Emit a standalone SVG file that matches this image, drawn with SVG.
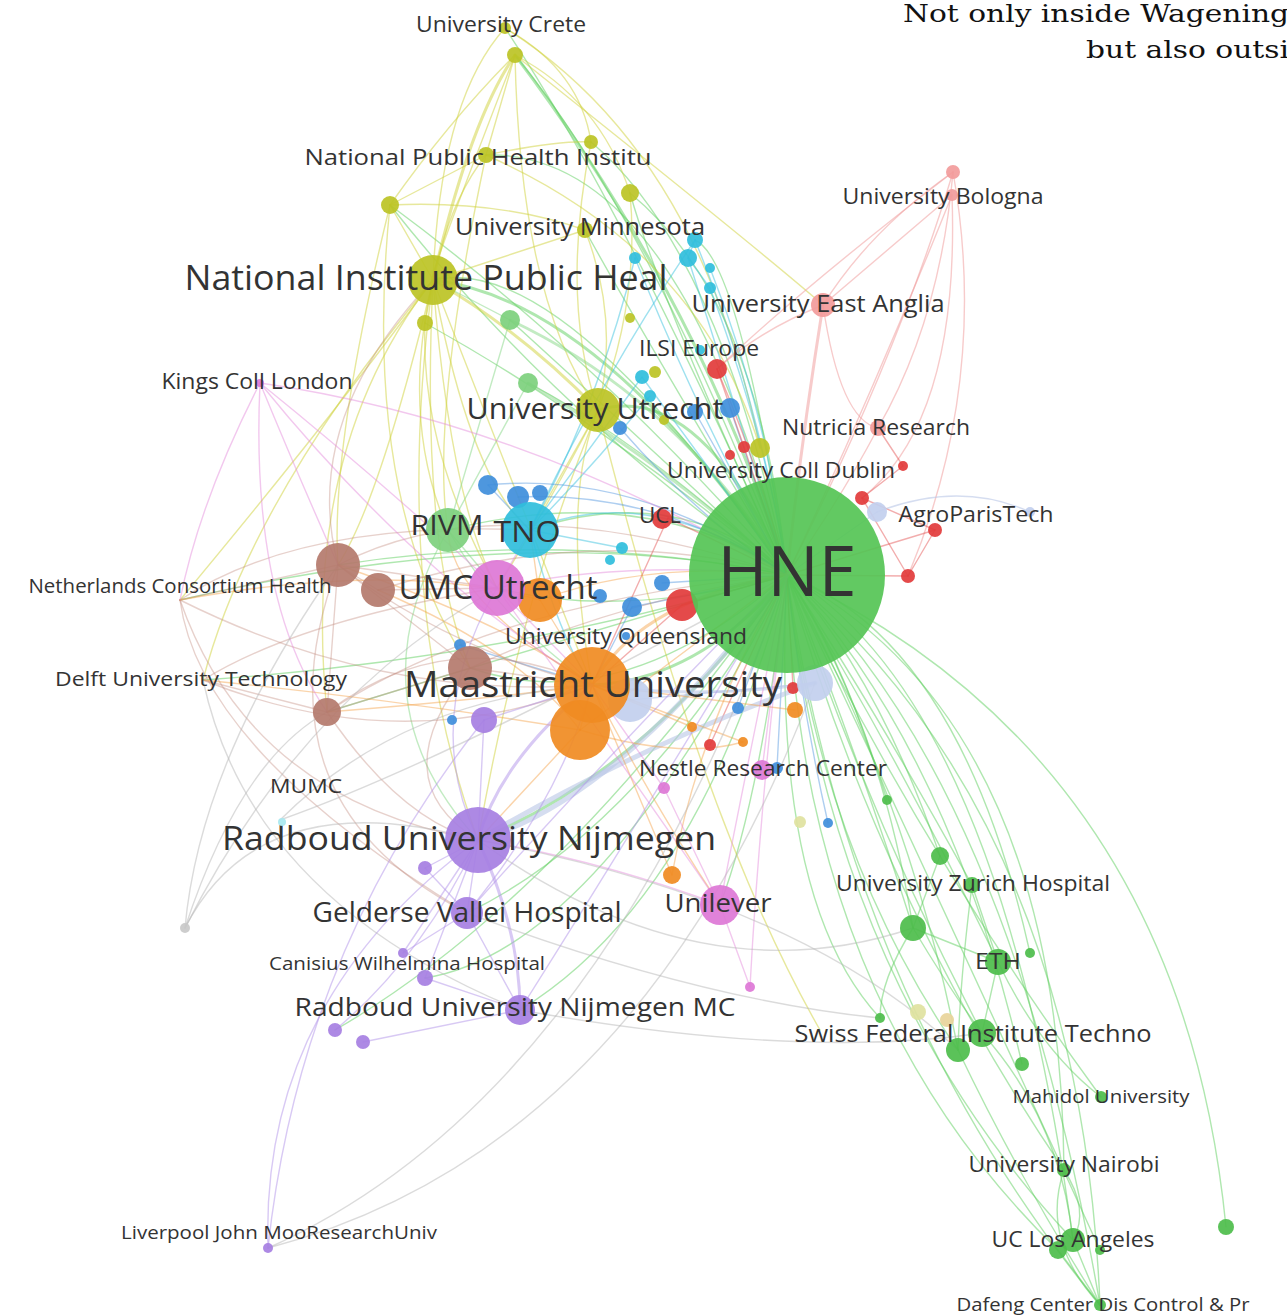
<svg xmlns="http://www.w3.org/2000/svg" width="1287" height="1315" viewBox="0 0 1287 1315">
<style>
.e path{fill:none;stroke-linecap:round;stroke-width:1.4}
.g{stroke:#5fcf5f;stroke-opacity:.5}
.y{stroke:#cfd23a;stroke-opacity:.5}
.lg{stroke:#86d886;stroke-opacity:.5}
.c{stroke:#3fc3df;stroke-opacity:.5}
.b{stroke:#4c93de;stroke-opacity:.45}
.r{stroke:#e24a4a;stroke-opacity:.45}
.s{stroke:#f0a0a0;stroke-opacity:.55}
.o{stroke:#f4a045;stroke-opacity:.45}
.m{stroke:#e384d9;stroke-opacity:.45}
.v{stroke:#b293ea;stroke-opacity:.5}
.n{stroke:#c48c80;stroke-opacity:.4}
.l{stroke:#b9c6e6;stroke-opacity:.6}
.k{stroke:#b8b8b8;stroke-opacity:.5}
.w2{stroke-width:3!important}
.w4{stroke-width:5!important}
circle{fill-opacity:.92}
.gr{fill:#4dbd4b}.ye{fill:#bcc325}.lgn{fill:#7dd07d}.cy{fill:#30bedc}.bl{fill:#3f8edb}.re{fill:#e23b3b}.sa{fill:#f29b9b}.lb{fill:#c2cfee}.br{fill:#b47a6d}.or{fill:#f08b22}.ma{fill:#dd77d6}.pu{fill:#a67fe2}.gy{fill:#c9c9c9}
text{font-family:"Open Sans","Noto Sans","DejaVu Sans",sans-serif;fill:#333;text-anchor:middle}
.t{font-family:"DejaVu Serif","Liberation Serif",serif;fill:#111;text-anchor:start;font-size:25px}
</style>
<rect width="1287" height="1315" fill="#fff"/>
<g id="connectors" class="e">
<path class="g" d="M787 575 Q850 1000 1100 1305"/>
<path class="g" d="M787 575 Q830 980 1073 1240"/>
<path class="g" d="M787 575 Q880 900 1064 1170"/>
<path class="g" d="M787 575 Q920 850 1101 1097"/>
<path class="g" d="M787 575 Q1180 760 1226 1227"/>
<path class="g" d="M787 575 Q870 820 982 1033"/>
<path class="g" d="M787 575 Q900 760 998 962"/>
<path class="g" d="M787 575 Q880 720 913 928"/>
<path class="g" d="M787 575 Q870 700 972 885"/>
<path class="g" d="M787 575 Q880 680 940 856"/>
<path class="g" d="M787 575 Q840 650 887 800"/>
<path class="g" d="M787 575 Q820 850 958 1050"/>
<path class="g" d="M787 575 Q1010 780 1100 1305"/>
<path class="g" d="M787 575 Q1000 700 1073 1240"/>
<path class="g" d="M787 575 Q770 900 880 1018"/>
<path class="g" d="M787 575 Q950 750 1022 1064"/>
<path class="g" d="M787 575 Q1060 720 1064 1170"/>
<path class="g" d="M787 575 Q800 1000 1058 1250"/>
<path class="g" d="M787 575 Q940 900 1100 1250"/>
<path class="g" d="M787 575 Q1080 820 1100 1305"/>
<path class="g" d="M787 575 Q960 640 1030 953"/>
<path class="g" d="M787 575 Q860 760 913 928"/>
<path class="g" d="M787 575 Q910 800 958 1050"/>
<path class="g" d="M913 928 L998 962"/>
<path class="g" d="M913 928 Q950 990 982 1033"/>
<path class="g" d="M972 885 L998 962"/>
<path class="g" d="M998 962 L982 1033"/>
<path class="g" d="M982 1033 Q1060 1120 1073 1240"/>
<path class="g" d="M1064 1170 Q1090 1210 1073 1240"/>
<path class="g" d="M1073 1240 L1100 1305"/>
<path class="g" d="M1058 1250 L1100 1305"/>
<path class="g" d="M1064 1170 Q1040 1240 1100 1305"/>
<path class="g" d="M940 856 L913 928"/>
<path class="g" d="M958 1050 Q1020 1180 1100 1305"/>
<path class="g" d="M972 885 Q960 980 958 1050"/>
<path class="g" d="M998 962 Q1040 1050 1101 1097"/>
<path class="g" d="M913 928 Q880 980 880 1018"/>
<path class="g w2" d="M787 575 Q700 300 515 55"/>
<path class="g" d="M787 575 Q650 220 515 55"/>
<path class="g" d="M787 575 Q620 200 505 28"/>
<path class="g w2" d="M787 575 Q600 300 433 280"/>
<path class="g w2" d="M787 575 Q700 380 598 410"/>
<path class="g" d="M787 575 Q680 150 486 155"/>
<path class="g" d="M787 575 Q720 250 591 142"/>
<path class="g" d="M787 575 Q660 300 630 193"/>
<path class="g" d="M787 575 Q760 300 630 193"/>
<path class="g" d="M787 575 Q640 330 585 230"/>
<path class="g" d="M787 575 Q650 480 448 530"/>
<path class="g" d="M787 575 Q680 480 530 530"/>
<path class="g w2" d="M787 575 Q650 770 478 840"/>
<path class="g w2" d="M787 575 Q700 680 592 685"/>
<path class="g" d="M787 575 Q640 830 467 913"/>
<path class="g" d="M787 575 Q700 900 520 1010"/>
<path class="g" d="M787 575 Q600 950 425 978"/>
<path class="g" d="M787 575 Q560 900 335 1030"/>
<path class="g" d="M787 575 Q760 800 720 905"/>
<path class="g" d="M787 575 Q560 640 327 712"/>
<path class="g" d="M787 575 Q560 530 338 565"/>
<path class="g" d="M787 575 Q560 420 390 205"/>
<path class="g" d="M787 575 Q600 360 390 205"/>
<path class="g" d="M787 575 Q600 420 425 323"/>
<path class="g" d="M787 575 Q620 420 510 320"/>
<path class="g" d="M787 575 Q640 440 528 383"/>
<path class="g" d="M787 575 Q620 620 497 588"/>
<path class="g" d="M787 575 Q620 720 470 668"/>
<path class="g" d="M787 575 Q560 250 433 280"/>
<path class="g" d="M787 575 Q740 260 695 240"/>
<path class="g" d="M787 575 Q520 520 180 600"/>
<path class="g" d="M787 575 Q500 660 203 680"/>
<path class="y" d="M433 280 L390 205"/>
<path class="y" d="M433 280 Q450 200 486 155"/>
<path class="y w2" d="M433 280 Q470 120 515 55"/>
<path class="y" d="M433 280 Q440 100 505 28"/>
<path class="y" d="M390 205 L486 155"/>
<path class="y" d="M390 205 Q450 120 515 55"/>
<path class="y" d="M486 155 L515 55"/>
<path class="y" d="M515 55 Q600 100 630 193"/>
<path class="y" d="M505 28 Q580 70 591 142"/>
<path class="y" d="M486 155 Q560 140 591 142"/>
<path class="y" d="M433 280 L585 230"/>
<path class="y" d="M390 205 Q500 200 585 230"/>
<path class="y w2" d="M433 280 Q520 330 598 410"/>
<path class="y" d="M433 280 L425 323"/>
<path class="y" d="M433 280 Q400 420 448 530"/>
<path class="y" d="M433 280 Q380 500 338 565"/>
<path class="y" d="M433 280 Q470 480 530 530"/>
<path class="y" d="M433 280 Q420 550 470 668"/>
<path class="y" d="M433 280 Q450 500 497 588"/>
<path class="y" d="M433 280 Q520 500 592 685"/>
<path class="y" d="M433 280 Q300 450 327 712"/>
<path class="y" d="M433 280 Q390 600 478 840"/>
<path class="y" d="M433 280 Q250 500 203 680"/>
<path class="y" d="M433 280 Q330 420 180 600"/>
<path class="y" d="M390 205 Q330 450 338 565"/>
<path class="y" d="M390 205 Q360 500 470 668"/>
<path class="y" d="M486 155 Q430 420 448 530"/>
<path class="y" d="M515 55 Q520 300 598 410"/>
<path class="y" d="M515 55 Q420 300 433 280"/>
<path class="y" d="M598 410 Q560 500 592 685"/>
<path class="y" d="M598 410 L530 530"/>
<path class="y" d="M598 410 Q540 520 497 588"/>
<path class="y" d="M598 410 Q520 600 478 840"/>
<path class="y" d="M505 28 Q700 150 760 448"/>
<path class="y" d="M515 55 Q760 250 823 305"/>
<path class="y" d="M486 155 Q700 250 760 448"/>
<path class="y" d="M630 193 Q640 300 598 410"/>
<path class="y" d="M585 230 Q620 320 598 410"/>
<path class="y" d="M591 142 Q560 300 598 410"/>
<path class="y" d="M425 323 Q420 450 497 588"/>
<path class="y" d="M598 410 Q700 820 820 1030"/>
<path class="lg w2" d="M510 320 Q680 400 787 575"/>
<path class="lg w2" d="M528 383 Q660 460 787 575"/>
<path class="lg" d="M448 530 L510 320"/>
<path class="lg" d="M448 530 L528 383"/>
<path class="lg" d="M433 280 L510 320"/>
<path class="lg" d="M448 530 Q500 620 592 685"/>
<path class="lg" d="M448 530 L497 588"/>
<path class="lg" d="M448 530 Q350 700 478 840"/>
<path class="c" d="M530 530 Q650 480 787 575"/>
<path class="c" d="M695 240 Q760 400 787 575"/>
<path class="c" d="M688 258 Q740 420 787 575"/>
<path class="c" d="M710 268 Q770 420 787 575"/>
<path class="c" d="M710 288 Q770 450 787 575"/>
<path class="c" d="M635 258 Q700 420 787 575"/>
<path class="c" d="M642 377 L787 575"/>
<path class="c" d="M530 530 L642 377"/>
<path class="c" d="M635 258 Q600 400 530 530"/>
<path class="c" d="M695 240 Q600 380 530 530"/>
<path class="c" d="M695 240 L688 258"/>
<path class="c" d="M688 258 L710 288"/>
<path class="c" d="M650 396 Q590 470 530 530"/>
<path class="c" d="M530 530 L622 548"/>
<path class="c" d="M530 530 Q560 640 592 685"/>
<path class="b" d="M730 408 L787 575"/>
<path class="b" d="M695 412 L787 575"/>
<path class="b" d="M620 428 Q700 520 787 575"/>
<path class="b" d="M488 485 Q640 470 787 575"/>
<path class="b" d="M518 497 Q660 490 787 575"/>
<path class="b" d="M632 607 L787 575"/>
<path class="b" d="M662 583 L787 575"/>
<path class="b" d="M488 485 L530 530"/>
<path class="b" d="M632 607 L592 685"/>
<path class="b" d="M460 645 L592 685"/>
<path class="b" d="M738 708 L787 575"/>
<path class="b" d="M828 823 Q800 700 787 575"/>
<path class="b" d="M777 768 L787 575"/>
<path class="s" d="M953 172 Q900 350 787 575"/>
<path class="s" d="M952 195 Q870 400 787 575"/>
<path class="s" d="M953 172 Q870 230 823 305"/>
<path class="s" d="M952 195 L823 305"/>
<path class="s w2" d="M823 305 Q800 450 787 575"/>
<path class="s" d="M953 172 Q990 380 908 576"/>
<path class="s" d="M952 195 Q960 420 862 498"/>
<path class="s" d="M823 305 Q760 330 717 369"/>
<path class="s" d="M953 172 Q800 290 717 369"/>
<path class="s" d="M823 305 Q840 420 878 428"/>
<path class="s" d="M878 428 Q840 500 787 575"/>
<path class="s" d="M953 172 Q940 320 878 428"/>
<path class="r" d="M717 369 L744 447"/>
<path class="r" d="M717 369 Q760 470 787 575"/>
<path class="r" d="M862 498 L935 530"/>
<path class="r" d="M935 530 L908 576"/>
<path class="r" d="M862 498 L908 576"/>
<path class="r" d="M908 576 L787 575"/>
<path class="r" d="M935 530 L787 575"/>
<path class="r" d="M903 466 L862 498"/>
<path class="r" d="M878 428 L903 466"/>
<path class="r" d="M668 518 L787 575"/>
<path class="r" d="M682 605 L787 575"/>
<path class="r" d="M668 518 L592 685"/>
<path class="r" d="M682 605 L592 685"/>
<path class="r" d="M710 745 L787 575"/>
<path class="r" d="M793 688 L787 575"/>
<path class="r" d="M744 447 L787 575"/>
<path class="l w4" d="M478 840 Q650 740 815 683"/>
<path class="l w2" d="M815 683 Q700 700 592 685"/>
<path class="l" d="M877 512 L787 575"/>
<path class="l" d="M877 512 Q960 480 1030 512"/>
<path class="l w4" d="M478 840 Q620 800 787 575"/>
<path class="l" d="M630 700 L815 683"/>
<path class="n" d="M338 565 L497 588"/>
<path class="n" d="M338 565 Q500 480 787 575"/>
<path class="n" d="M338 565 Q450 650 592 685"/>
<path class="n" d="M327 712 Q450 620 592 685"/>
<path class="n" d="M327 712 Q500 600 787 575"/>
<path class="n" d="M470 668 L592 685"/>
<path class="n" d="M470 668 Q620 600 787 575"/>
<path class="n" d="M378 590 L497 588"/>
<path class="n" d="M338 565 L378 590"/>
<path class="n" d="M338 565 L470 668"/>
<path class="n" d="M327 712 L470 668"/>
<path class="n" d="M327 712 L338 565"/>
<path class="n" d="M180 600 Q300 520 530 530"/>
<path class="n" d="M180 600 Q380 700 592 685"/>
<path class="n" d="M180 600 L338 565"/>
<path class="n" d="M180 600 Q250 800 478 840"/>
<path class="n" d="M180 600 Q200 750 467 913"/>
<path class="n" d="M338 565 Q250 800 467 913"/>
<path class="n" d="M203 680 Q300 620 497 588"/>
<path class="n" d="M203 680 Q400 760 592 685"/>
<path class="n" d="M203 680 L327 712"/>
<path class="n" d="M327 712 Q400 820 478 840"/>
<path class="n" d="M338 565 Q300 420 433 280"/>
<path class="n" d="M378 590 Q600 520 787 575"/>
<path class="n" d="M470 668 Q380 780 478 840"/>
<path class="o" d="M592 685 L580 730"/>
<path class="o w2" d="M592 685 Q640 600 787 575"/>
<path class="o" d="M592 685 L540 600"/>
<path class="o" d="M592 685 L672 875"/>
<path class="o" d="M592 685 L692 727"/>
<path class="o" d="M592 685 L743 742"/>
<path class="o" d="M592 685 L795 710"/>
<path class="o" d="M540 600 Q650 560 787 575"/>
<path class="o" d="M580 730 Q700 640 787 575"/>
<path class="o" d="M592 685 Q500 620 338 565"/>
<path class="o" d="M592 685 Q480 700 327 712"/>
<path class="o" d="M592 685 Q450 600 448 530"/>
<path class="o" d="M580 730 L478 840"/>
<path class="o" d="M592 685 Q650 800 720 905"/>
<path class="o" d="M580 730 Q520 650 378 590"/>
<path class="o" d="M580 730 Q400 700 203 680"/>
<path class="o" d="M540 600 Q400 560 180 600"/>
<path class="o" d="M580 730 Q680 760 743 742"/>
<path class="o" d="M672 875 Q700 720 787 575"/>
<path class="o" d="M540 600 L530 530"/>
<path class="m" d="M497 588 Q620 560 787 575"/>
<path class="m" d="M497 588 L530 530"/>
<path class="m" d="M497 588 L592 685"/>
<path class="m" d="M497 588 Q620 760 720 905"/>
<path class="m" d="M260 383 Q380 480 497 588"/>
<path class="m" d="M260 383 Q300 480 338 565"/>
<path class="m" d="M260 383 Q420 580 592 685"/>
<path class="m" d="M260 383 Q520 420 787 575"/>
<path class="m" d="M260 383 Q200 500 180 600"/>
<path class="m" d="M260 383 Q250 600 327 712"/>
<path class="m" d="M720 905 L750 987"/>
<path class="m" d="M720 905 Q750 750 787 575"/>
<path class="m" d="M762 770 L787 575"/>
<path class="m" d="M664 788 L720 905"/>
<path class="m" d="M664 788 L592 685"/>
<path class="m" d="M750 987 Q760 800 787 575"/>
<path class="m" d="M720 905 Q600 860 478 840"/>
<path class="v" d="M478 840 L467 913"/>
<path class="v" d="M478 840 L425 868"/>
<path class="v" d="M478 840 L403 953"/>
<path class="v" d="M478 840 L425 978"/>
<path class="v w2" d="M478 840 Q520 930 520 1010"/>
<path class="v" d="M467 913 L520 1010"/>
<path class="v" d="M425 978 L520 1010"/>
<path class="v" d="M335 1030 Q420 960 478 840"/>
<path class="v" d="M363 1042 L520 1010"/>
<path class="v" d="M268 1248 Q260 1000 478 840"/>
<path class="v" d="M268 1248 Q300 950 484 720"/>
<path class="v w2" d="M478 840 Q500 760 592 685"/>
<path class="v" d="M478 840 Q420 720 497 588"/>
<path class="v" d="M484 720 L478 840"/>
<path class="v" d="M467 913 Q560 800 592 685"/>
<path class="v" d="M467 913 L403 953"/>
<path class="v" d="M425 868 L467 913"/>
<path class="v" d="M484 720 L592 685"/>
<path class="v" d="M520 1010 Q640 820 787 575"/>
<path class="v" d="M467 913 Q640 720 787 575"/>
<path class="k" d="M268 1248 Q600 1100 787 575"/>
<path class="k" d="M268 1248 Q640 1150 815 683"/>
<path class="k" d="M185 928 Q200 760 338 565"/>
<path class="k" d="M185 928 Q260 780 478 840"/>
<path class="k" d="M185 928 Q300 700 497 588"/>
<path class="k" d="M185 928 Q240 760 327 712"/>
<path class="k" d="M520 1010 Q800 1060 982 1033"/>
<path class="k" d="M467 913 Q700 1000 880 1018"/>
<path class="k" d="M478 840 Q700 1000 913 928"/>
<path class="k" d="M478 840 Q800 900 958 1050"/>
<path class="k" d="M203 680 Q250 900 520 1010"/>
<path class="k" d="M280 820 Q400 700 592 685"/>
<path class="k" d="M280 820 Q450 760 787 575"/>
</g>

<g id="minor-nodes">
<circle class="gr" cx="887" cy="800" r="5"/>
<circle class="gr" cx="940" cy="856" r="9"/>
<circle class="gr" cx="913" cy="928" r="13"/>
<circle class="gr" cx="1030" cy="953" r="5"/>
<circle class="gr" cx="958" cy="1050" r="12"/>
<circle class="gr" cx="1022" cy="1064" r="7"/>
<circle class="gr" cx="880" cy="1018" r="5"/>
<circle class="gr" cx="1058" cy="1250" r="9"/>
<circle class="gr" cx="1100" cy="1250" r="5"/>
<circle class="gr" cx="1226" cy="1227" r="8"/>
<circle cx="918" cy="1012" r="8" fill="#e0e2a0"/>
<circle cx="947" cy="1020" r="7" fill="#e8d49a"/>
<circle cx="800" cy="822" r="6" fill="#e0e2a0"/>
<circle class="ye" cx="515" cy="55" r="8"/>
<circle class="ye" cx="390" cy="205" r="9"/>
<circle class="ye" cx="591" cy="142" r="7"/>
<circle class="ye" cx="630" cy="193" r="9"/>
<circle class="ye" cx="425" cy="323" r="8"/>
<circle class="ye" cx="630" cy="318" r="5"/>
<circle class="ye" cx="664" cy="420" r="5"/>
<circle class="ye" cx="655" cy="372" r="6"/>
<circle class="ye" cx="760" cy="448" r="10"/>
<circle class="lgn" cx="510" cy="320" r="10"/>
<circle class="lgn" cx="528" cy="383" r="10"/>
<circle class="cy" cx="695" cy="240" r="8"/>
<circle class="cy" cx="688" cy="258" r="9"/>
<circle class="cy" cx="710" cy="268" r="5"/>
<circle class="cy" cx="710" cy="288" r="6"/>
<circle class="cy" cx="635" cy="258" r="6"/>
<circle class="cy" cx="642" cy="377" r="7"/>
<circle class="cy" cx="650" cy="396" r="6"/>
<circle class="cy" cx="622" cy="548" r="6"/>
<circle class="cy" cx="610" cy="560" r="5"/>
<circle class="bl" cx="730" cy="408" r="10"/>
<circle class="bl" cx="695" cy="412" r="8"/>
<circle class="bl" cx="620" cy="428" r="7"/>
<circle class="bl" cx="488" cy="485" r="10"/>
<circle class="bl" cx="518" cy="497" r="11"/>
<circle class="bl" cx="540" cy="493" r="8"/>
<circle class="bl" cx="662" cy="583" r="8"/>
<circle class="bl" cx="632" cy="607" r="10"/>
<circle class="bl" cx="600" cy="596" r="7"/>
<circle class="bl" cx="460" cy="645" r="6"/>
<circle class="bl" cx="452" cy="720" r="5"/>
<circle class="bl" cx="738" cy="708" r="6"/>
<circle class="bl" cx="828" cy="823" r="5"/>
<circle class="bl" cx="777" cy="768" r="6"/>
<circle class="re" cx="717" cy="369" r="10"/>
<circle class="re" cx="744" cy="447" r="6"/>
<circle class="re" cx="730" cy="455" r="5"/>
<circle class="re" cx="862" cy="498" r="7"/>
<circle class="re" cx="935" cy="530" r="7"/>
<circle class="re" cx="908" cy="576" r="7"/>
<circle class="re" cx="682" cy="605" r="16"/>
<circle class="re" cx="710" cy="745" r="6"/>
<circle class="re" cx="793" cy="688" r="6"/>
<circle class="sa" cx="953" cy="172" r="7"/>
<circle class="lb" cx="815" cy="683" r="18"/>
<circle class="lb" cx="630" cy="700" r="22"/>
<circle class="lb" cx="1030" cy="512" r="5"/>
<circle class="br" cx="338" cy="565" r="22"/>
<circle class="br" cx="470" cy="668" r="22"/>
<circle class="or" cx="580" cy="730" r="30"/>
<circle class="or" cx="540" cy="600" r="22"/>
<circle class="or" cx="672" cy="875" r="9"/>
<circle class="or" cx="692" cy="727" r="5"/>
<circle class="or" cx="743" cy="742" r="5"/>
<circle class="or" cx="795" cy="710" r="8"/>
<circle class="ma" cx="750" cy="987" r="5"/>
<circle class="ma" cx="664" cy="788" r="6"/>
<circle class="pu" cx="484" cy="720" r="13"/>
<circle class="pu" cx="425" cy="868" r="7"/>
<circle class="pu" cx="403" cy="953" r="5"/>
<circle class="pu" cx="335" cy="1030" r="7"/>
<circle class="pu" cx="363" cy="1042" r="7"/>
<circle class="gy" cx="185" cy="928" r="5"/>
</g>

<g id="n-hne"><circle cx="787" cy="575" r="98" fill="#55c455" fill-opacity=".88"/><text x="787" y="596" font-size="70" textLength="139" lengthAdjust="spacingAndGlyphs">HNE</text></g>
<g id="n-maastricht"><circle class="or" cx="592" cy="685" r="38"/><text x="593" y="697" font-size="36" textLength="378" lengthAdjust="spacingAndGlyphs">Maastricht University</text></g>
<g id="n-niph"><circle class="ye" cx="433" cy="280" r="25"/><text x="426" y="290" font-size="34" textLength="483" lengthAdjust="spacingAndGlyphs">National Institute Public Heal</text></g>
<g id="n-radboud"><circle class="pu" cx="478" cy="840" r="33"/><text x="469" y="850" font-size="33" textLength="494" lengthAdjust="spacingAndGlyphs">Radboud University Nijmegen</text></g>
<g id="n-umc"><circle class="ma" cx="497" cy="588" r="28"/><text x="498" y="599" font-size="32" textLength="199" lengthAdjust="spacingAndGlyphs">UMC Utrecht</text></g>
<g id="n-tno"><circle class="cy" cx="530" cy="530" r="28"/><text x="527" y="542" font-size="30" textLength="67" lengthAdjust="spacingAndGlyphs">TNO</text></g>
<g id="n-rivm"><circle class="lgn" cx="448" cy="530" r="22"/><text x="447" y="535" font-size="28" textLength="73" lengthAdjust="spacingAndGlyphs">RIVM</text></g>
<g id="n-uu"><circle class="ye" cx="598" cy="410" r="22"/><text x="595" y="419" font-size="29" textLength="257" lengthAdjust="spacingAndGlyphs">University Utrecht</text></g>
<g id="n-unilever"><circle class="ma" cx="720" cy="905" r="20"/><text x="718" y="912" font-size="26" textLength="107" lengthAdjust="spacingAndGlyphs">Unilever</text></g>
<g id="n-gelderse"><circle class="pu" cx="467" cy="913" r="16"/><text x="467" y="922" font-size="27" textLength="309" lengthAdjust="spacingAndGlyphs">Gelderse Vallei Hospital</text></g>
<g id="n-radboudmc"><circle class="pu" cx="520" cy="1010" r="15"/><text x="515" y="1016" font-size="26" textLength="441" lengthAdjust="spacingAndGlyphs">Radboud University Nijmegen MC</text></g>
<g id="n-swiss"><circle class="gr" cx="982" cy="1033" r="14"/><text x="973" y="1042" font-size="24" textLength="357" lengthAdjust="spacingAndGlyphs">Swiss Federal Institute Techno</text></g>
<g id="n-eth"><circle class="gr" cx="998" cy="962" r="13"/><text x="998" y="969" font-size="22" textLength="46" lengthAdjust="spacingAndGlyphs">ETH</text></g>
<g id="n-zurich"><circle class="gr" cx="972" cy="885" r="8"/><text x="973" y="891" font-size="22" textLength="274" lengthAdjust="spacingAndGlyphs">University Zurich Hospital</text></g>
<g id="n-eastanglia"><circle class="sa" cx="823" cy="305" r="12"/><text x="818" y="312" font-size="24" textLength="253" lengthAdjust="spacingAndGlyphs">University East Anglia</text></g>
<g id="n-bologna"><circle class="sa" cx="952" cy="195" r="6"/><text x="943" y="204" font-size="22" textLength="201" lengthAdjust="spacingAndGlyphs">University Bologna</text></g>
<g id="n-crete"><circle class="ye" cx="505" cy="28" r="6"/><text x="501" y="32" font-size="21" textLength="170" lengthAdjust="spacingAndGlyphs">University Crete</text></g>
<g id="n-nphi"><circle class="ye" cx="486" cy="155" r="8"/><text x="478" y="165" font-size="22" textLength="347" lengthAdjust="spacingAndGlyphs">National Public Health Institu</text></g>
<g id="n-minnesota"><circle class="ye" cx="585" cy="230" r="8"/><text x="580" y="235" font-size="23" textLength="250" lengthAdjust="spacingAndGlyphs">University Minnesota</text></g>
<g id="n-ilsi"><circle class="cy" cx="700" cy="350" r="5"/><text x="699" y="356" font-size="21" textLength="120" lengthAdjust="spacingAndGlyphs">ILSI Europe</text></g>
<g id="n-kings"><circle class="ma" cx="260" cy="383" r="4"/><text x="257" y="389" font-size="21" textLength="191" lengthAdjust="spacingAndGlyphs">Kings Coll London</text></g>
<g id="n-nutricia"><circle class="sa" cx="878" cy="428" r="8"/><text x="876" y="435" font-size="21" textLength="188" lengthAdjust="spacingAndGlyphs">Nutricia Research</text></g>
<g id="n-dublin"><circle class="re" cx="903" cy="466" r="5"/><text x="781" y="478" font-size="21" textLength="228" lengthAdjust="spacingAndGlyphs">University Coll Dublin</text></g>
<g id="n-agro"><circle class="lb" cx="877" cy="512" r="10"/><text x="976" y="522" font-size="21" textLength="155" lengthAdjust="spacingAndGlyphs">AgroParisTech</text></g>
<g id="n-ucl"><circle class="re" cx="662" cy="519" r="10"/><text x="660" y="523" font-size="21" textLength="42" lengthAdjust="spacingAndGlyphs">UCL</text></g>
<g id="n-nch"><circle class="br" cx="378" cy="590" r="17"/><text x="180" y="593" font-size="19.5" textLength="303" lengthAdjust="spacingAndGlyphs">Netherlands Consortium Health</text></g>
<g id="n-queensland"><circle class="bl" cx="626" cy="636" r="4"/><text x="626" y="644" font-size="21" textLength="242" lengthAdjust="spacingAndGlyphs">University Queensland</text></g>
<g id="n-delft"><circle class="br" cx="327" cy="712" r="14"/><text x="201" y="686" font-size="20.5" textLength="292" lengthAdjust="spacingAndGlyphs">Delft University Technology</text></g>
<g id="n-nestle"><circle class="ma" cx="762" cy="770" r="10"/><text x="763" y="776" font-size="21" textLength="248" lengthAdjust="spacingAndGlyphs">Nestle Research Center</text></g>
<g id="n-mumc"><circle cx="282" cy="822" r="4" fill="#a8e8f0"/><text x="306" y="793" font-size="20" textLength="72" lengthAdjust="spacingAndGlyphs">MUMC</text></g>
<g id="n-canisius"><circle class="pu" cx="425" cy="978" r="8"/><text x="407" y="970" font-size="18.5" textLength="276" lengthAdjust="spacingAndGlyphs">Canisius Wilhelmina Hospital</text></g>
<g id="n-mahidol"><circle class="gr" cx="1101" cy="1097" r="6"/><text x="1101" y="1103" font-size="19" textLength="177" lengthAdjust="spacingAndGlyphs">Mahidol University</text></g>
<g id="n-nairobi"><circle class="gr" cx="1064" cy="1170" r="7"/><text x="1064" y="1172" font-size="21" textLength="191" lengthAdjust="spacingAndGlyphs">University Nairobi</text></g>
<g id="n-ucla"><circle class="gr" cx="1073" cy="1240" r="12"/><text x="1073" y="1247" font-size="21" textLength="163" lengthAdjust="spacingAndGlyphs">UC Los Angeles</text></g>
<g id="n-dafeng"><circle class="gr" cx="1100" cy="1305" r="6"/><text x="1103" y="1311" font-size="19" textLength="293" lengthAdjust="spacingAndGlyphs">Dafeng Center Dis Control &amp; Pr</text></g>
<g id="n-liverpool"><circle class="pu" cx="268" cy="1248" r="5"/><text x="279" y="1239" font-size="19" textLength="316" lengthAdjust="spacingAndGlyphs">Liverpool John MooResearchUniv</text></g>

<g id="title">
<text class="t" x="903" y="22" textLength="386" lengthAdjust="spacingAndGlyphs">Not only inside Wagening</text>
<text class="t" x="1086" y="58" textLength="203" lengthAdjust="spacingAndGlyphs">but also outsi</text>
</g>
</svg>
